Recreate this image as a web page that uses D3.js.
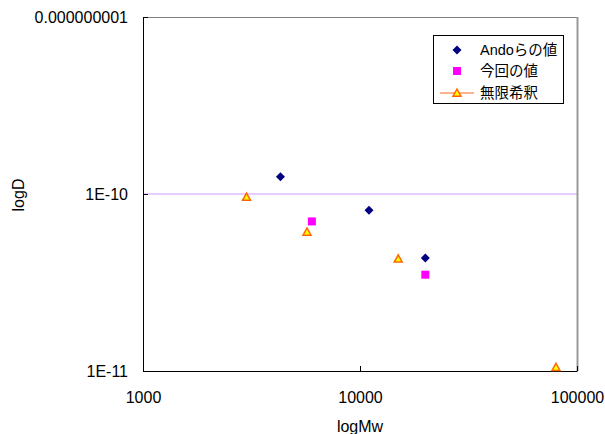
<!DOCTYPE html>
<html><head><meta charset="utf-8">
<script src="https://cdn.jsdelivr.net/npm/d3@7"></script>
<style>body{margin:0;background:#fff}svg{display:block}</style>
</head><body>
<script>
const xTicks = [1000, 10000, 100000];
const xTickLabels = ["1000", "10000", "100000"];
const yTicks = [1e-11, 1e-10, 1e-9];
const yTickLabels = ["1E-11", "1E-10", "0.000000001"];
const seriesNames = ["Andoらの値", "今回の値", "無限希釈"];
const andoMw = [4300, 11000, 20000];
const andoD = [1.25e-10, 8.1e-11, 4.35e-11];
const nowMw = [6000, 20000];
const nowD = [7.0e-11, 3.5e-11];
const infMw = [3000, 5700, 15000, 80000];
const infD = [9.6e-11, 6.1e-11, 4.3e-11, 1.05e-11];

const W = 605, H = 434;
const L = 143, R = 577, T = 17, B = 371;
const svg = d3.select("body").append("svg").attr("width", W).attr("height", H)
  .style("font-family", "'Liberation Sans', Arial, 'Noto Sans CJK JP', sans-serif");
const x = d3.scaleLog().domain([1000, 100000]).range([L, R]);
const y = d3.scaleLog().domain([1e-11, 1e-9]).range([B, T]);

// gridline at 1E-10
svg.append("line").attr("x1", L).attr("x2", R).attr("y1", y(1e-10)).attr("y2", y(1e-10))
  .attr("stroke", "#CC99FF").attr("stroke-width", 1);

// plot border top/right
svg.append("line").attr("x1", L).attr("x2", R + 1).attr("y1", T + 0.5).attr("y2", T + 0.5).attr("stroke", "#808080");
svg.append("line").attr("x1", R + 0.5).attr("x2", R + 0.5).attr("y1", T).attr("y2", B).attr("stroke", "#999").attr("stroke-width", 2);

// axes
const xAxis = d3.axisBottom(x).tickValues(xTicks).tickFormat((d, i) => xTickLabels[i]).tickSizeInner(-5).tickSizeOuter(0).tickPadding(21);
const gx = svg.append("g").attr("transform", `translate(0,${B})`).call(xAxis);
gx.select(".domain").attr("stroke", "#000");
gx.selectAll(".tick line").attr("stroke", "#000");
gx.selectAll("text").attr("font-size", 16).attr("fill", "#000").attr("font-family", "'Liberation Sans', Arial, sans-serif");

const yAxis = d3.axisLeft(y).tickValues(yTicks).tickFormat((d, i) => yTickLabels[i]).tickSizeInner(-5).tickSizeOuter(0).tickPadding(15);
const gy = svg.append("g").attr("transform", `translate(${L},0)`).call(yAxis);
gy.select(".domain").attr("stroke", "#000");
gy.selectAll(".tick line").attr("stroke", "#000");
gy.selectAll("text").attr("font-size", 16).attr("fill", "#000").attr("font-family", "'Liberation Sans', Arial, sans-serif");

// axis titles
svg.append("text").attr("x", 360).attr("y", 432).attr("text-anchor", "middle").attr("font-size", 16).text("logMw");
svg.append("text").attr("transform", "translate(24,195) rotate(-90)").attr("text-anchor", "middle").attr("font-size", 16).text("logD");

// markers
const diamond = (cx, cy, s) => `M${cx},${cy - s}L${cx + s},${cy}L${cx},${cy + s}L${cx - s},${cy}Z`;
const tri = (cx, cy, s) => `M${cx},${cy - s}L${cx + s},${cy + s * 0.8}L${cx - s},${cy + s * 0.8}Z`;

svg.append("g").selectAll("path").data(andoMw).join("path")
  .attr("d", (d, i) => diamond(x(d), y(andoD[i]), 4.5)).attr("fill", "#000080");
svg.append("g").selectAll("rect").data(nowMw).join("rect")
  .attr("x", (d, i) => x(d) - 4).attr("y", (d, i) => y(nowD[i]) - 4).attr("width", 8).attr("height", 8).attr("fill", "#FF00FF");
svg.append("g").selectAll("path").data(infMw).join("path")
  .attr("d", (d, i) => tri(x(d), y(infD[i]), 4)).attr("fill", "#FFFF00").attr("stroke", "#FF6600").attr("stroke-width", 1.5);

// legend
const lg = svg.append("g");
lg.append("rect").attr("x", 433.5).attr("y", 35.5).attr("width", 130).attr("height", 68).attr("fill", "#fff").attr("stroke", "#000");
const rowsY = [50, 71, 93];
lg.append("path").attr("d", diamond(457, rowsY[0], 4.5)).attr("fill", "#000080");
lg.append("rect").attr("x", 453).attr("y", rowsY[1] - 4).attr("width", 8).attr("height", 8).attr("fill", "#FF00FF");
lg.append("line").attr("x1", 440).attr("x2", 474).attr("y1", rowsY[2]).attr("y2", rowsY[2]).attr("stroke", "#FF9966").attr("stroke-width", 1.5);
lg.append("path").attr("d", tri(457, rowsY[2], 4)).attr("fill", "#FFFF00").attr("stroke", "#FF6600").attr("stroke-width", 1.5);
lg.selectAll("text.lbl").data(seriesNames).join("text").attr("class", "lbl")
  .attr("x", 480).attr("y", (d, i) => rowsY[i] + 5).attr("font-size", 14.5)
  .style("font-family", "'Liberation Sans', Arial, 'Noto Sans CJK JP', sans-serif")
  .text(d => d);
</script>
</body></html>
